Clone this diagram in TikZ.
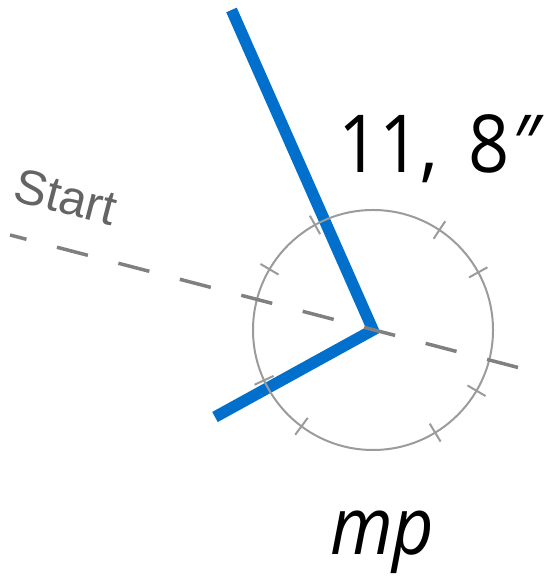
\documentclass[tikz,border=0pt]{standalone}
\usepackage{fontspec}
\setmainfont{Open Sans}
\newfontfamily\bigfont[FakeStretch=0.9]{Open Sans}
\newfontfamily\startfont{Liberation Sans}
\definecolor{handblue}{RGB}{0,112,204}
\definecolor{dialgray}{RGB}{155,155,155}
\definecolor{dashgray}{RGB}{128,128,128}
\definecolor{textgray}{RGB}{100,100,100}
\tikzset{
  hand/.style={draw=handblue, line width=11.5pt, line join=miter},
  dial/.style={draw=dialgray, line width=2pt},
  dialtick/.style={draw=dialgray, line width=2pt},
  startline/.style={draw=dashgray, line width=3.5pt, dash pattern=on 32pt off 31.5pt, dash phase=15pt},
  startlabel/.style={text=textgray, font=\startfont\fontsize{49}{49}\selectfont, inner sep=0pt},
  bigtext/.style={text=black, font=\bigfont\fontsize{80}{80}\selectfont, inner sep=0pt}
}
\begin{document}
\begin{tikzpicture}[x=1pt,y=1pt]
\useasboundingbox (0,0) rectangle (547,585);
\coordinate (c) at (373,255);
\coordinate (top) at (231.5,575);
\coordinate (low) at (215,168);
\draw[hand] (top) -- (c) -- (low);
\draw[dial] (c) circle (120);
\foreach \a in {28.7,56.4,118.9,149.6,204.8,233.4,301.2,329.6}
  \draw[dialtick, shift={(c)}] (\a:109.5) -- (\a:130.5);
\coordinate (s0) at (10,350);
\coordinate (s1) at (520,217);
\draw[startline] (s0) -- (s1);
\node[startlabel, rotate=-14.6] (startlbl) at (66,388) {Start};
\node[bigtext, anchor=base west] (time) at (338,412) {11,\hspace{30pt}8{\itshape\hspace{2pt}″}};
\node[bigtext, anchor=base west] (mp) at (330,30) {\itshape mp};
\end{tikzpicture}
\end{document}
